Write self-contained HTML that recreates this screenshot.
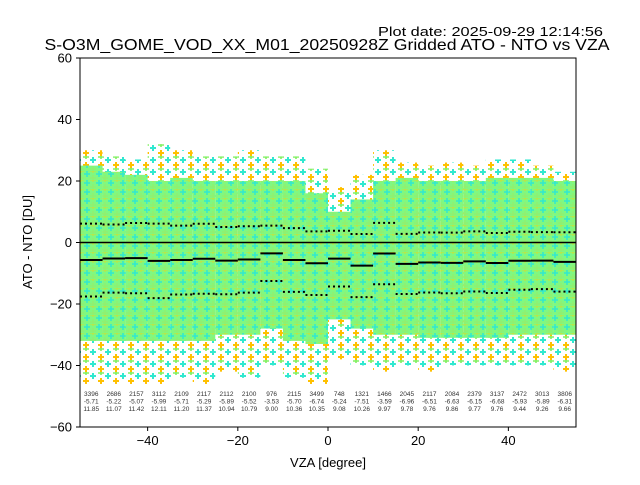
<!DOCTYPE html>
<html><head><meta charset="utf-8"><style>
body{margin:0;background:#fff;}
svg text{font-family:"Liberation Sans","DejaVu Sans",sans-serif;}
</style></head><body>
<svg id="chart" width="640" height="480" xmlns="http://www.w3.org/2000/svg">
<defs>
<pattern id="dense" width="12" height="9" patternUnits="userSpaceOnUse">
<rect width="12" height="9" fill="#80f880"/>
<path d="M3 0v6M0 3h6" stroke="#30e8d0" stroke-width="1.5"/>
<path d="M9 4v6M6 7h6" stroke="#90f070" stroke-width="1.5"/>
<path d="M9 -2v4M6 0h6" stroke="#ffd000" stroke-width="1.2" opacity="0.5"/>
</pattern>
<pattern id="sparse" width="15" height="12" patternUnits="userSpaceOnUse">
<path d="M3 1v6M0 4h6" stroke="#30e8d0" stroke-width="2"/>
<path d="M11 6v6M8 9h6" stroke="#ffc000" stroke-width="2"/>
<path d="M11 -1v4M8 1h6" stroke="#80f060" stroke-width="1.6"/>
</pattern>
<clipPath id="plotclip"><rect x="80" y="58" width="496" height="369"/></clipPath>
</defs>
<text x="603" y="36" font-size="12.5" text-anchor="end" textLength="225" lengthAdjust="spacingAndGlyphs">Plot date: 2025-09-29 12:14:56</text>
<text x="327" y="50" font-size="16" text-anchor="middle" textLength="565" lengthAdjust="spacingAndGlyphs">S-O3M_GOME_VOD_XX_M01_20250928Z Gridded ATO - NTO vs VZA</text>
<g id="plot" clip-path="url(#plotclip)"></g>
<rect x="80" y="58" width="496" height="369" fill="none" stroke="#000" stroke-width="1"/>
<g id="axes"></g>
<text x="328" y="467" font-size="13" text-anchor="middle">VZA [degree]</text>
<text x="32" y="242" font-size="13" text-anchor="middle" transform="rotate(-90 32 242)">ATO - NTO [DU]</text>
</svg>
<script>
const binStarts=[-55,-50,-45,-40,-35,-30,-25,-20,-15,-10,-5,0,5,10,15,20,25,30,35,40,45,50];
const counts=[3396,2686,2157,3112,2109,2117,2112,2100,976,2115,3499,748,1321,1466,2045,2117,2084,2379,3137,2472,3013,3806];
const means=[-5.71,-5.22,-5.07,-5.99,-5.71,-5.29,-5.89,-5.52,-3.53,-5.70,-6.74,-5.24,-7.51,-3.59,-6.96,-6.51,-6.63,-6.15,-6.68,-5.93,-5.89,-6.31];
const stds=[11.85,11.07,11.42,12.11,11.20,11.37,10.94,10.79,9.00,10.36,10.35,9.08,10.26,9.97,9.78,9.76,9.86,9.77,9.76,9.44,9.26,9.66];
const denseTop=[25,23,22,20,21,20,20,20,20,20,16,10,14,20,21,20,20,20,21,21,21,20];
const denseBottom=[-32,-32,-32,-32,-32,-32,-30,-30,-28,-32,-33,-25,-28,-30,-30,-31,-31,-31,-31,-30,-30,-30];
const sparseTop=[30,28,27,32,30,28,28,30,28,28,24,18,22,30,26,25,26,25,27,27,25,23];
const sparseBottom=[-46,-46,-46,-46,-44,-46,-42,-44,-40,-44,-46,-38,-40,-42,-40,-42,-40,-40,-40,-40,-40,-42];
const xTicks=[-40,-20,0,20,40];
const yTicks=[-60,-40,-20,0,20,40,60];
const binWidth=5;
const NS='http://www.w3.org/2000/svg';
const sx=v=>80+(v+55)*496/110;
const sy=v=>58+(60-v)*369/120;
const plot=document.getElementById('plot'),axes=document.getElementById('axes');
function mk(tag,attrs,parent){const e=document.createElementNS(NS,tag);for(const k in attrs)e.setAttribute(k,attrs[k]);parent.appendChild(e);return e;}
binStarts.forEach((b,i)=>{
  const x=sx(b),w=sx(b+binWidth)-sx(b);
  const r1=mk('rect',{x:x,y:sy(sparseTop[i]),width:w,height:sy(sparseBottom[i])-sy(sparseTop[i]),fill:'url(#sparse)'},plot);
  
  
  const r2=mk('rect',{x:x,y:sy(denseTop[i]),width:w,height:sy(denseBottom[i])-sy(denseTop[i]),fill:'url(#dense)'},plot);
  
  
});
const zl=mk('line',{x1:80,x2:576,y1:sy(0),y2:sy(0),stroke:'#000','stroke-width':1.5},plot);


binStarts.forEach((b,i)=>{
  const x1=sx(b),x2=sx(b+binWidth);
  const m=mk('line',{x1:x1,x2:x2,y1:sy(means[i]),y2:sy(means[i]),stroke:'#000','stroke-width':2},plot);
  
  
  [means[i]+stds[i],means[i]-stds[i]].forEach(v=>{
    const d=mk('line',{x1:x1,x2:x2,y1:sy(v),y2:sy(v),stroke:'#000','stroke-width':2,'stroke-dasharray':'2,3'},plot);
    
    
  });
  const cx=sx(b+binWidth/2);
  [counts[i],means[i].toFixed(2),stds[i].toFixed(2)].forEach((t,j)=>{
    const tx=mk('text',{x:cx,y:396+j*7.5,'font-size':6.5,'text-anchor':'middle',fill:'#333'},plot);
    tx.textContent=t;
    
    
  });
});
xTicks.forEach(t=>{
  const l=mk('line',{x1:sx(t),x2:sx(t),y1:427,y2:431,stroke:'#000'},axes);
  
  
  const tx=mk('text',{x:sx(t),y:445,'font-size':13,'text-anchor':'middle'},axes);
  tx.textContent=t<0?'\u2212'+Math.abs(t):t;
  
  
});
yTicks.forEach(t=>{
  const l=mk('line',{x1:76,x2:80,y1:sy(t),y2:sy(t),stroke:'#000'},axes);
  
  
  const tx=mk('text',{x:72,y:sy(t)+4.5,'font-size':13,'text-anchor':'end'},axes);
  tx.textContent=t<0?'\u2212'+Math.abs(t):t;
  
  
});
</script>
</body></html>
